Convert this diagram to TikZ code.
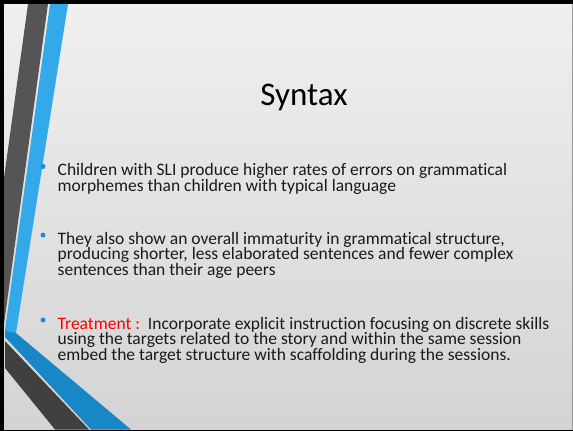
\documentclass[tikz,border=0pt]{standalone}
\usepackage{fontspec}
\setmainfont{Carlito}[Ligatures=NoCommon]
\definecolor{stripedark}{HTML}{555555}
\definecolor{stripedarkb}{HTML}{404040}
\definecolor{stripeblue}{HTML}{33A9EA}
\definecolor{stripebluedeep}{HTML}{1787C6}
\definecolor{bulletblue}{HTML}{1F8DD0}
\definecolor{bodytext}{HTML}{1A1A1A}
\definecolor{treatred}{HTML}{FF0000}
\begin{document}
\begin{tikzpicture}[x=1pt,y=-1pt,
  bodyline/.style={anchor=base west,inner sep=0pt,text=bodytext,text height=11pt,text depth=3pt,font=\fontsize{17.5}{15.5}\selectfont},
  bulletdot/.style={circle,fill=bulletblue,inner sep=0pt,minimum size=5pt},
  titletext/.style={anchor=base,inner sep=0pt,text=black,font=\fontsize{33}{38}\selectfont}]
\useasboundingbox (0,0) rectangle (573,431);
% frame and background
\fill[black] (0,0) rectangle (573,431);
\shade[top color=white!94!black,middle color=white!91!black,bottom color=white!83!black] (4,4) rectangle (572,429.5);
\fill[white!60!black] (572,4) rectangle (573,429.5);
% upper stripes
\fill[stripedark] (28,4) -- (48,4) -- (4,324) -- (4,178) -- cycle;
\fill[stripeblue] (50,4) -- (68,4) -- (16,333) -- (5,333) -- (5,330) -- cycle;
% lower stripes
\fill[stripebluedeep] (5,331) -- (16,333) -- (131,429.5) -- (91,429.5) -- (5,337) -- cycle;
\fill[stripedarkb] (5,341) -- (89,429.5) -- (55,429.5) -- (5,368) -- cycle;
% title
\node[titletext] (title) at (304,105) {Syntax};
% bullet 1
\node[bulletdot] (d1) at (43,166.5) {};
\node[bodyline] (b1a) at (57.5,175.7) {Children with SLI produce higher rates of errors on grammatical};
\node[bodyline] (b1b) at (57.5,191.2) {morphemes than children with typical language};
% bullet 2
\node[bulletdot] (d2) at (43,235) {};
\node[bodyline] (b2a) at (57.5,244.2) {They also show an overall immaturity in grammatical structure,};
\node[bodyline] (b2b) at (57.5,259.6) {producing shorter, less elaborated sentences and fewer complex};
\node[bodyline] (b2c) at (57.5,275) {sentences than their age peers};
% bullet 3
\node[bulletdot] (d3) at (43,320) {};
\node[bodyline] (b3a) at (57.5,329) {\textcolor{treatred}{Treatment :}\ \ Incorporate explicit instruction focusing on discrete skills};
\node[bodyline] (b3b) at (57.5,344.5) {using the targets related to the story and within the same session};
\node[bodyline] (b3c) at (57.5,360) {embed the target structure with scaffolding during the sessions.};
\end{tikzpicture}
\end{document}
